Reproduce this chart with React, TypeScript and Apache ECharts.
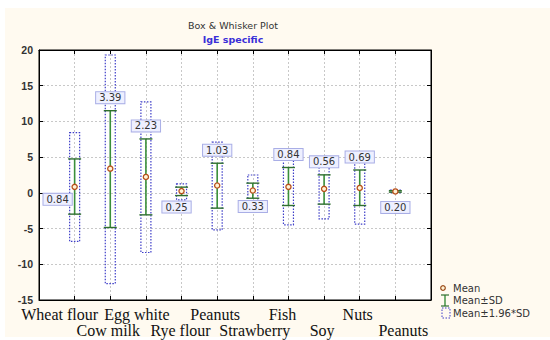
import React, { useEffect, useRef } from "react";
import * as echarts from "echarts";

// ---- data ----
const categories = [
  "Wheat flour", "Cow milk", "Egg white", "Rye flour", "Peanuts",
  "Strawberry", "Fish", "Soy", "Nuts", "Peanuts",
];
const means = [0.84, 3.39, 2.23, 0.25, 1.03, 0.33, 0.84, 0.56, 0.69, 0.2];
const sdLow = [-2.98, -4.85, -3.08, -0.38, -2.14, -0.75, -1.77, -1.58, -1.77, 0.1];
const sdHigh = [4.75, 11.5, 7.55, 0.8, 4.15, 1.36, 3.55, 2.52, 3.2, 0.3];
const ciLow = [-6.8, -12.7, -8.35, -0.98, -5.17, -1.73, -4.47, -3.64, -4.38, 0.02];
const ciHigh = [8.43, 19.3, 12.73, 1.26, 7.1, 2.5, 6.06, 4.6, 5.64, 0.38];
const yTicks = [-15, -10, -5, 0, 5, 10, 15, 20];

// label placement (style, not data)
const labelPlacement = ["left", "above", "above", "below", "above", "below", "above", "above", "above", "below"];
const catLabelShift = [-15, -2, -9, -1, -2, 2, -6, -2, -2, 8];

const SANS = "'DejaVu Sans', Verdana, sans-serif";
const SERIF = "'Liberation Serif', 'Times New Roman', serif";

export default function App() {
  const ref = useRef<HTMLDivElement>(null);

  useEffect(() => {
    const chart = echarts.init(ref.current!, null, { renderer: "svg" });

    const rich: Record<string, any> = {};
    categories.forEach((_, i) => {
      const s = catLabelShift[i];
      rich["r" + i] = {
        fontFamily: SERIF,
        fontSize: 16,
        color: "#111",
        lineHeight: 14,
        padding: [0, s < 0 ? -2 * s : 0, 0, s > 0 ? 2 * s : 0],
      };
    });

    const rowFormatter = (row: number) => (v: number) => {
      const i = Math.round(v) - 1;
      if (i < 0 || i >= categories.length || i % 2 !== row) return "";
      return "{r" + i + "|" + categories[i] + "}";
    };

    const data = categories.map((_, i) => [
      i + 1, means[i], sdLow[i], sdHigh[i], ciLow[i], ciHigh[i], i,
    ]);

    const xBase = { type: "value", min: 0, max: 11, interval: 1 };

    const option: any = {
      animation: false,
      title: {
        text: "Box & Whisker Plot",
        subtext: "IgE specific",
        left: 228,
        textAlign: "center",
        top: 15,
        itemGap: 4,
        textStyle: { fontFamily: SANS, fontSize: 9.5, fontWeight: "normal", color: "#333" },
        subtextStyle: { fontFamily: SANS, fontSize: 9.5, fontWeight: "bold", color: "#3a2fd8" },
      },
      grid: {
        left: 39,
        right: 119,
        top: 50,
        bottom: 40,
        show: true,
        backgroundColor: "#ffffff",
        borderColor: "#000",
        borderWidth: 1,
      },
      xAxis: [
        {
          ...xBase,
          axisLine: { show: true, onZero: false, lineStyle: { color: "#000" } },
          axisTick: { show: true, inside: true, length: 4, lineStyle: { color: "#000" } },
          splitLine: { show: true, lineStyle: { color: "#c8c8c8", type: [2, 2] } },
          axisLabel: { margin: 7, formatter: rowFormatter(0), rich },
        },
        {
          ...xBase,
          position: "top",
          axisLine: { show: true, onZero: false, lineStyle: { color: "#000" } },
          axisTick: { show: true, inside: true, length: 4, lineStyle: { color: "#000" } },
          axisLabel: { show: false },
          splitLine: { show: false },
        },
        {
          ...xBase,
          position: "bottom",
          offset: 16.5,
          axisLine: { show: false, onZero: false },
          axisTick: { show: false },
          splitLine: { show: false },
          axisLabel: { margin: 7, formatter: rowFormatter(1), rich },
        },
      ],
      yAxis: [
        {
          type: "value",
          min: yTicks[0],
          max: yTicks[yTicks.length - 1],
          interval: 5,
          axisLine: { show: true, onZero: false, lineStyle: { color: "#000" } },
          axisTick: { show: true, inside: true, length: 4, lineStyle: { color: "#000" } },
          splitLine: { show: true, lineStyle: { color: "#c8c8c8", type: [2, 2] } },
          axisLabel: {
            margin: 6,
            fontFamily: "'Liberation Sans', Arial, sans-serif",
            fontSize: 10.5,
            lineHeight: 10,
            fontWeight: "bold",
            color: "#333",
          },
        },
        {
          type: "value",
          position: "right",
          min: yTicks[0],
          max: yTicks[yTicks.length - 1],
          interval: 5,
          axisLine: { show: true, onZero: false, lineStyle: { color: "#000" } },
          axisTick: { show: true, inside: true, length: 4, lineStyle: { color: "#000" } },
          axisLabel: { show: false },
          splitLine: { show: false },
        },
      ],
      series: [
        {
          type: "custom",
          xAxisIndex: 0,
          yAxisIndex: 0,
          data,
          renderItem: (params: any, api: any) => {
            const x = api.value(0);
            const idx = api.value(6);
            const pm = api.coord([x, api.value(1)]);
            const psl = api.coord([x, api.value(2)]);
            const psh = api.coord([x, api.value(3)]);
            const pcl = api.coord([x, api.value(4)]);
            const pch = api.coord([x, api.value(5)]);
            const cx = pm[0];
            const bw = 10;
            const cw = 13;
            const place = labelPlacement[idx];
            let lx = cx;
            let ly = psh[1] - 13;
            if (place === "left") {
              lx = cx - 17;
              ly = pm[1] + 12.5;
            } else if (place === "below") {
              lx = cx - (idx === 3 ? 5 : 0);
              ly = pm[1] + 16;
            }
            return {
              type: "group",
              children: [
                {
                  type: "rect",
                  shape: { x: cx - bw / 2, y: pch[1], width: bw, height: Math.max(pcl[1] - pch[1], 1) },
                  style: { fill: "none", stroke: "#3d3dc8", lineWidth: 1.2, lineDash: [1.5, 1.5] },
                },
                {
                  type: "line",
                  shape: { x1: cx, y1: psh[1], x2: cx, y2: psl[1] },
                  style: { stroke: "#3a8f3a", lineWidth: 1.6 },
                },
                {
                  type: "line",
                  shape: { x1: cx - cw / 2, y1: psh[1], x2: cx + cw / 2, y2: psh[1] },
                  style: { stroke: "#2f6f2f", lineWidth: 1.4 },
                },
                {
                  type: "line",
                  shape: { x1: cx - cw / 2, y1: psl[1], x2: cx + cw / 2, y2: psl[1] },
                  style: { stroke: "#2f6f2f", lineWidth: 1.4 },
                },
                {
                  type: "circle",
                  shape: { cx, cy: pm[1], r: 2.6 },
                  style: { fill: "#fff3d6", stroke: "#b8501c", lineWidth: 1.3 },
                },
                {
                  type: "text",
                  z2: 10,
                  style: {
                    text: means[idx].toFixed(2),
                    x: lx,
                    y: ly,
                    align: "center",
                    verticalAlign: "middle",
                    fill: "#333",
                    font: "10px " + SANS,
                    backgroundColor: "#eef0ff",
                    borderColor: "#a9aee6",
                    borderWidth: 1,
                    padding: [1, 3, 0, 3],
                  },
                },
              ],
            };
          },
        },
      ],
      graphic: [
        {
          type: "circle",
          shape: { cx: 443, cy: 288, r: 2.3 },
          style: { fill: "#fff3d6", stroke: "#9a4a18", lineWidth: 1.2 },
        },
        {
          type: "text",
          style: { text: "Mean", x: 453, y: 288, verticalAlign: "middle", fill: "#333", font: "10px " + SANS },
        },
        {
          type: "line",
          shape: { x1: 445, y1: 295, x2: 445, y2: 306 },
          style: { stroke: "#3a8f3a", lineWidth: 1.4 },
        },
        {
          type: "line",
          shape: { x1: 441, y1: 295, x2: 449, y2: 295 },
          style: { stroke: "#2f6f2f", lineWidth: 1.2 },
        },
        {
          type: "line",
          shape: { x1: 441, y1: 306, x2: 449, y2: 306 },
          style: { stroke: "#2f6f2f", lineWidth: 1.2 },
        },
        {
          type: "text",
          style: { text: "Mean±SD", x: 453, y: 300, verticalAlign: "middle", fill: "#333", font: "10px " + SANS },
        },
        {
          type: "rect",
          shape: { x: 442, y: 308, width: 8, height: 10 },
          style: { fill: "none", stroke: "#3d3dc8", lineWidth: 1, lineDash: [1.5, 1.5] },
        },
        {
          type: "text",
          style: { text: "Mean±1.96*SD", x: 453, y: 313, verticalAlign: "middle", fill: "#333", font: "10px " + SANS },
        },
      ],
    };

    chart.setOption(option);
    return () => chart.dispose();
  }, []);

  return (
    <div style={{ position: "fixed", left: 0, top: 0, width: 550, height: 340, background: "#ffffff" }}>
      <div style={{ position: "absolute", left: 5, top: 8, width: 545, height: 329, background: "#fffaf0" }} />
      <div ref={ref} style={{ position: "absolute", left: 0, top: 0, width: 550, height: 340 }} />
    </div>
  );
}
